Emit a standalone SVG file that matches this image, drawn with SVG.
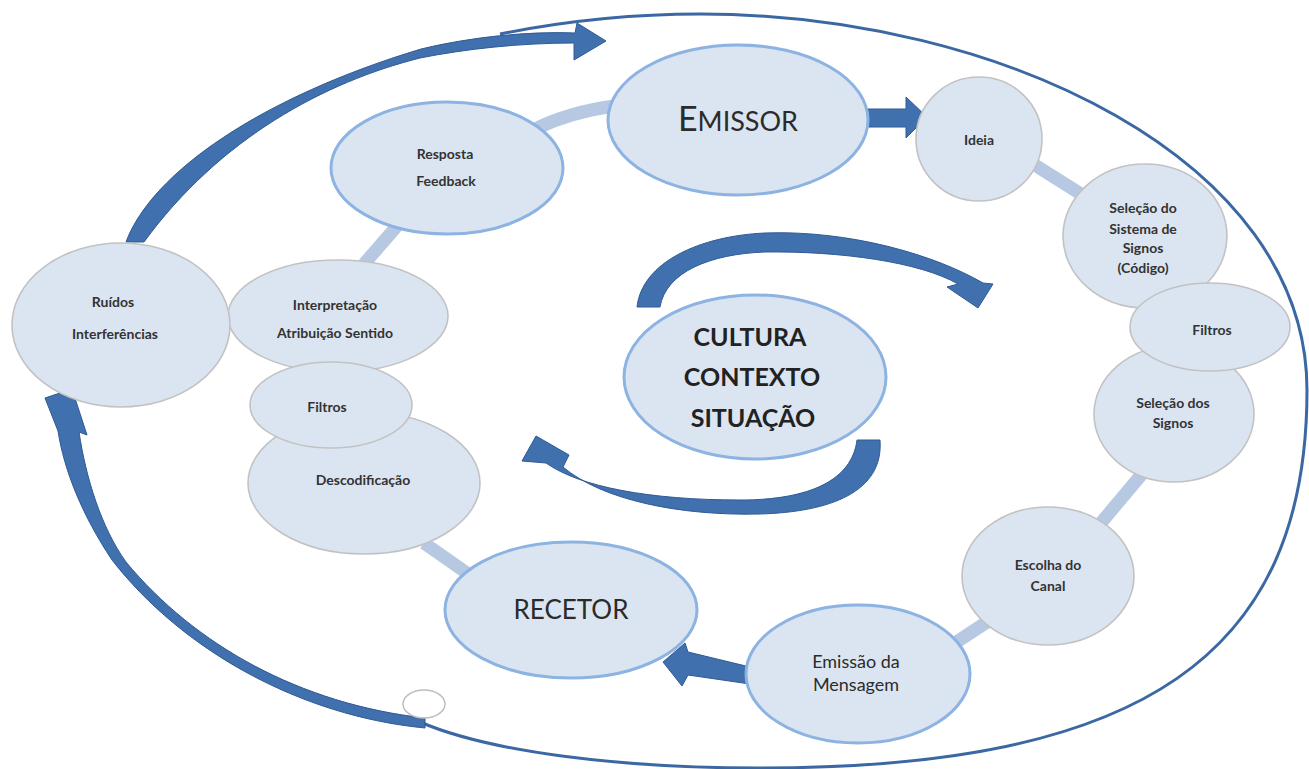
<svg xmlns="http://www.w3.org/2000/svg" width="1309" height="769" viewBox="0 0 1309 769">
<style>
.band{fill:none;stroke:#b6c8e2;stroke-width:13;stroke-linecap:butt}
.ring{fill:none;stroke:#3b68a3;stroke-width:3}
.arw{fill:#4070ae;stroke:#2f5b93;stroke-width:1}
.main{fill:#dbe5f1;stroke:#8cb3e1;stroke-width:3}
.sub{fill:#dbe5f1;stroke:#c2c2c2;stroke-width:1.6}
.t{font-family:Lato,"Open Sans","Liberation Sans",sans-serif;text-anchor:middle;fill:#2b2b2b}
.s{font-size:14px;font-weight:bold;fill:#333}
.c{font-size:25px;font-weight:bold;fill:#222}
</style>
<rect width="1309" height="769" fill="#fff"/>
<g id="connectors">
  <path class="band" d="M535,129 Q570,112 614,106"/>
  <path class="band" d="M397,226 L364,264"/>
  <path class="band" d="M1030,162 L1092,201"/>
  <path class="band" d="M1142,474 L1100,524"/>
  <path class="band" d="M990,620 L952,645"/>
  <path class="band" d="M424,543 L474,578"/>
  <path class="ring" d="M420,722 C490,752 620,768 760,768 C1143,768 1307,655 1307,390 C1307,160 1000,14 700,14 C630,14 560,22 500,34"/>
  <path class="arw" d="M126,242 C152,172 262,97 421,49 C470,37 530,31 575,33 L577,23 L606,41 L574,60 L574,43 C520,43 465,49 420,58 C325,82 220,138 144,242 Z"/>
  <path class="arw" d="M425,728 C300,716 182,650 112,560 C82,515 64,470 58,431 L45,398 L72,389 L87,435 L79,432 C86,478 101,527 126,562 C195,645 300,704 425,718 Z"/>
  <path class="arw" d="M637,307 C642,262 700,236 765,233 C850,230 935,255 983,283 L993,284 L978,308 L947,287 L958,284 C920,262 840,251 765,252 C710,254 666,272 660,307 Z"/>
  <path class="arw" d="M880,440 C884,492 830,512 760,514 C680,516 602,500 563,467 L569,455 L536,436 L522,461 L546,463 C580,487 650,500 740,500 C810,500 852,480 857,440 Z"/>
  <path class="arw" d="M866,109 L906,109 L906,97 L927,117 L906,138 L906,127 L866,127 Z"/>
  <path class="arw" d="M750,667 L688,652 L685,643 L663,662 L682,686 L688,675 L750,684 Z"/>
</g>
<ellipse cx="424" cy="704" rx="21" ry="14" fill="#fff" stroke="#bdbdbd" stroke-width="1.5"/>
<g id="emissor"><ellipse class="main" cx="738" cy="120" rx="130" ry="75"/>
  <text class="t" x="738" y="131" fill="#1a1a1a"><tspan font-size="34">E</tspan><tspan font-size="27">MISSOR</tspan></text></g>
<g id="ideia"><ellipse class="sub" cx="979" cy="139" rx="63" ry="62"/>
  <text class="t s" x="979" y="145">Ideia</text></g>
<g id="selecao-sistema"><ellipse class="sub" cx="1145" cy="236" rx="82" ry="72"/>
  <text class="t s" x="1143" y="213">Seleção do</text>
  <text class="t s" x="1143" y="234">Sistema de</text>
  <text class="t s" x="1143" y="253">Signos</text>
  <text class="t s" x="1143" y="273">(Código)</text></g>
<g id="selecao-signos"><ellipse class="sub" cx="1174" cy="414" rx="80" ry="68"/>
  <text class="t s" x="1173" y="408">Seleção dos</text>
  <text class="t s" x="1173" y="428">Signos</text></g>
<g id="filtros-direita"><ellipse class="sub" cx="1210" cy="327" rx="80" ry="44"/>
  <text class="t s" x="1212" y="335">Filtros</text></g>
<g id="escolha-canal"><ellipse class="sub" cx="1048" cy="576" rx="86" ry="69"/>
  <text class="t s" x="1048" y="570">Escolha do</text>
  <text class="t s" x="1048" y="591">Canal</text></g>
<g id="emissao-mensagem"><ellipse class="main" cx="858" cy="674" rx="112" ry="69"/>
  <text class="t" x="856" y="668" font-size="18" fill="#1a1a1a">Emissão da</text>
  <text class="t" x="856" y="691" font-size="18" fill="#1a1a1a">Mensagem</text></g>
<g id="recetor"><ellipse class="main" cx="571" cy="610" rx="126" ry="68"/>
  <text class="t" x="571" y="619" font-size="26" fill="#1a1a1a">RECETOR</text></g>
<g id="interpretacao"><ellipse class="sub" cx="338" cy="316" rx="110" ry="56"/>
  <text class="t s" x="335" y="310">Interpretação</text>
  <text class="t s" x="335" y="338">Atribuição Sentido</text></g>
<g id="descodificacao"><ellipse class="sub" cx="364" cy="483" rx="116" ry="71"/>
  <text class="t s" x="363" y="485">Descodificação</text></g>
<g id="filtros-esquerda"><ellipse class="sub" cx="331" cy="405" rx="81" ry="43"/>
  <text class="t s" x="327" y="412">Filtros</text></g>
<g id="ruidos"><ellipse class="sub" cx="121" cy="325" rx="109" ry="82"/>
  <text class="t s" x="113" y="307" font-size="15">Ruídos</text>
  <text class="t s" x="115" y="339" font-size="15">Interferências</text></g>
<g id="resposta"><ellipse class="main" cx="447" cy="168" rx="116" ry="66"/>
  <text class="t s" x="445" y="159">Resposta</text>
  <text class="t s" x="446" y="186">Feedback</text></g>
<g id="cultura"><ellipse class="main" cx="755" cy="377" rx="131" ry="82"/>
  <text class="t c" x="750" y="346">CULTURA</text>
  <text class="t c" x="752" y="386">CONTEXTO</text>
  <text class="t c" x="753" y="427">SITUAÇÃO</text></g>
</svg>
